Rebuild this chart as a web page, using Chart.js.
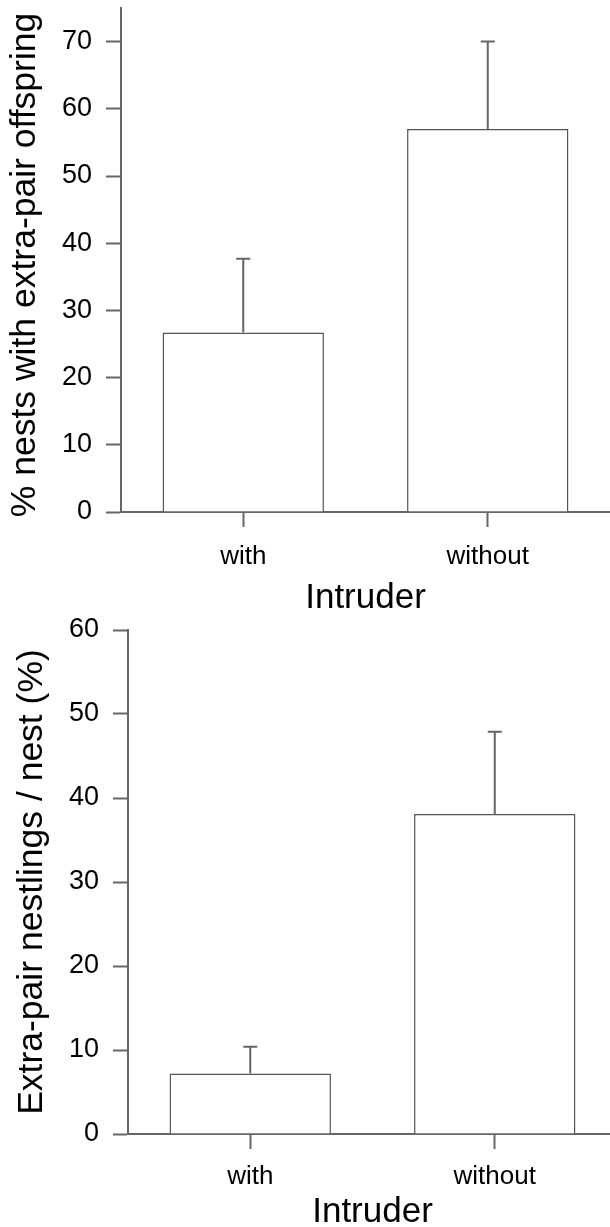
<!DOCTYPE html>
<html>
<head>
<meta charset="utf-8">
<title>Extra-pair offspring and intruders</title>
<script src="https://cdn.jsdelivr.net/npm/chart.js@4.4.1/dist/chart.umd.min.js"></script>
<style>
    html, body { margin: 0; padding: 0; background: #fff; overflow: hidden; }
    #page { position: relative; width: 610px; height: 1227px; overflow: hidden; background: #fff; }
    #top-wrap { position: absolute; left: 0; top: 0; width: 610px; height: 616px; }
    #bottom-wrap { position: absolute; left: 0; top: 610px; width: 617px; height: 620px; }
</style>
</head>
<body>
<div id="page">
    <div id="top-wrap"><canvas id="nests-chart" width="610" height="616"></canvas></div>
    <div id="bottom-wrap"><canvas id="nestlings-chart" width="617" height="620"></canvas></div>
</div>
<script>
// Categories shared by both panels
const intruderLabels = ['with', 'without'];

// Panel 1: % nests with extra-pair offspring (mean and top of error bar)
const nestsMeans = [26.7, 57.0];
const nestsUpper = [37.7, 70.0];
const nestsTicks = [0, 10, 20, 30, 40, 50, 60, 70];

// Panel 2: extra-pair nestlings per nest (%)
const nestlingsMeans = [7.2, 38.1];
const nestlingsUpper = [10.4, 47.9];
const nestlingsTicks = [0, 10, 20, 30, 40, 50, 60];

document.addEventListener('DOMContentLoaded', function() {
    Chart.defaults.font.family = "'Liberation Sans', Arial, sans-serif";
    Chart.defaults.color = '#000';

    const lineColor = '#666';

    // Draws the upper error bar (stem + cap) above each bar
    const errorBarPlugin = {
        id: 'errorBars',
        afterDatasetsDraw(chart, args, opts) {
            const ctx = chart.ctx;
            const meta = chart.getDatasetMeta(0);
            const yScale = chart.scales.y;
            ctx.save();
            ctx.strokeStyle = lineColor;
            ctx.lineWidth = 2;
            meta.data.forEach(function(bar, i) {
                const yTop = yScale.getPixelForValue(opts.upper[i]);
                const yMean = yScale.getPixelForValue(chart.data.datasets[0].data[i]);
                ctx.beginPath();
                ctx.moveTo(bar.x, yMean);
                ctx.lineTo(bar.x, yTop);
                ctx.moveTo(bar.x - 7, yTop);
                ctx.lineTo(bar.x + 7, yTop);
                ctx.stroke();
            });
            ctx.restore();
        }
    };

    function makeBarChart(canvasId, cfg) {
        const ctx = document.getElementById(canvasId).getContext('2d');
        return new Chart(ctx, {
            type: 'bar',
            data: {
                labels: intruderLabels,
                datasets: [{
                    data: cfg.means,
                    backgroundColor: '#fff',
                    borderColor: '#555',
                    borderWidth: 1.5,
                    borderSkipped: 'start',
                    barPercentage: 0.66,
                    categoryPercentage: 1.0
                }]
            },
            options: {
                responsive: false,
                animation: false,
                layout: { padding: { top: cfg.padTop, right: 0, bottom: 0, left: 0 } },
                scales: {
                    x: {
                        offset: true,
                        grid: {
                            offset: false,
                            drawOnChartArea: false,
                            drawTicks: true,
                            tickLength: 15,
                            tickColor: lineColor,
                            tickWidth: 2
                        },
                        border: { color: lineColor, width: 2 },
                        ticks: { padding: cfg.xLabelPad, font: { size: 26 } },
                        title: {
                            display: true,
                            text: 'Intruder',
                            font: { size: 35, lineHeight: 1 },
                            padding: { top: 0, bottom: 0 }
                        },
                        afterFit: function(scale) {
                            scale.height = cfg.xHeight;
                            scale.paddingLeft = 0;
                            scale.paddingRight = 0;
                        }
                    },
                    y: {
                        min: 0,
                        max: cfg.max,
                        grid: {
                            drawOnChartArea: false,
                            tickLength: 15,
                            tickColor: lineColor,
                            tickWidth: 2
                        },
                        border: { color: lineColor, width: 2 },
                        ticks: { padding: 14, font: { size: 27 } },
                        afterBuildTicks: function(scale) {
                            scale.ticks = cfg.ticks.map(function(v) { return { value: v }; });
                        },
                        title: {
                            display: true,
                            text: cfg.yTitle,
                            font: { size: cfg.yTitleSize, lineHeight: 1 },
                            padding: { top: cfg.yTitlePad, bottom: 0 }
                        },
                        afterFit: function(scale) {
                            scale.width = cfg.yWidth;
                            scale.paddingTop = 0;
                            scale.paddingBottom = 0;
                        }
                    }
                },
                plugins: {
                    legend: { display: false },
                    tooltip: { enabled: false },
                    errorBars: { upper: cfg.upper }
                }
            },
            plugins: [errorBarPlugin]
        });
    }

    makeBarChart('nests-chart', {
        means: nestsMeans,
        upper: nestsUpper,
        ticks: nestsTicks,
        max: 75,
        // trailing space nudges the centred title down a little, as in the figure
        yTitle: '% nests with extra-pair offspring ',
        yTitleSize: 35.5,
        padTop: 8,
        yWidth: 121,
        yTitlePad: 7,
        xHeight: 104,
        xLabelPad: 14
    });

    makeBarChart('nestlings-chart', {
        means: nestlingsMeans,
        upper: nestlingsUpper,
        ticks: nestlingsTicks,
        max: 60,
        yTitle: 'Extra-pair nestlings / nest (%)',
        yTitleSize: 35.5,
        padTop: 20,
        yWidth: 128,
        yTitlePad: 14,
        xHeight: 96,
        xLabelPad: 12
    });
});
</script>
</body>
</html>
